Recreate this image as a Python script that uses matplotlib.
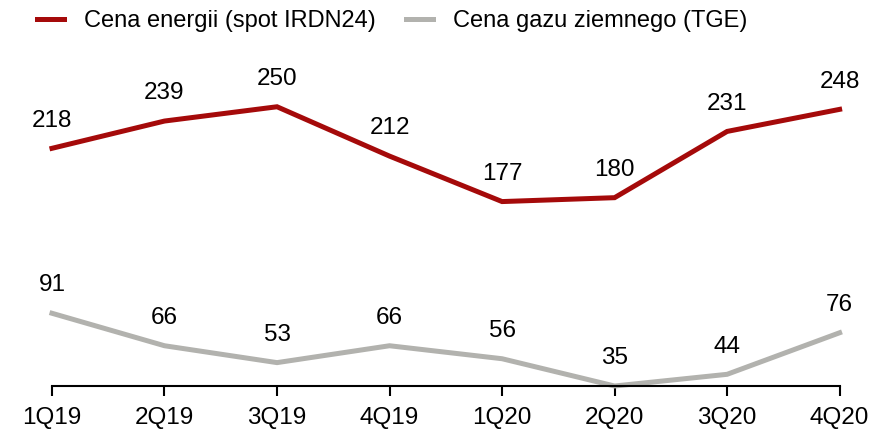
import matplotlib
matplotlib.use("Agg")
import matplotlib.pyplot as plt

quarters = ["1Q19", "2Q19", "3Q19", "4Q19", "1Q20", "2Q20", "3Q20", "4Q20"]
energy = [218, 239, 250, 212, 177, 180, 231, 248]
gas = [91, 66, 53, 66, 56, 35, 44, 76]

red = "#A50A0A"
grey = "#B2B2AE"

plt.rcParams['font.family'] = ['Liberation Sans', 'DejaVu Sans']

fig = plt.figure(figsize=(8.84, 4.37), dpi=100)
ax = fig.add_axes([0.0588, 0.1167, 0.891, 0.746])

x = list(range(len(quarters)))
l1, = ax.plot(x, energy, color=red, lw=3.6, solid_joinstyle='miter',
              label="Cena energii (spot IRDN24)", clip_on=False)
l2, = ax.plot(x, gas, color=grey, lw=3.6, solid_joinstyle='miter',
              label="Cena gazu ziemnego (TGE)", clip_on=False)

for xi, v in zip(x, energy):
    ax.annotate(str(v), (xi, v), xytext=(0, 20), textcoords='offset points',
                ha='center', va='center', fontsize=17.5)
for xi, v in zip(x, gas):
    ax.annotate(str(v), (xi, v), xytext=(0, 20), textcoords='offset points',
                ha='center', va='center', fontsize=17.5)

ax.set_xlim(0, 7)
ax.set_ylim(35, 286)
ax.set_xticks(x)
ax.set_xticklabels(quarters, fontsize=17.5)
ax.tick_params(axis='x', direction='out', length=7, width=1.5, pad=8)
ax.set_yticks([])
for s in ['top', 'right', 'left']:
    ax.spines[s].set_visible(False)
ax.spines['bottom'].set_linewidth(1.5)

fig.legend(handles=[l1, l2], loc='upper left', bbox_to_anchor=(0.018, 1.025),
           ncol=2, frameon=False, fontsize=17, handlelength=1.15,
           handletextpad=0.85, columnspacing=1.25)

fig.savefig("out.png", dpi=100)
